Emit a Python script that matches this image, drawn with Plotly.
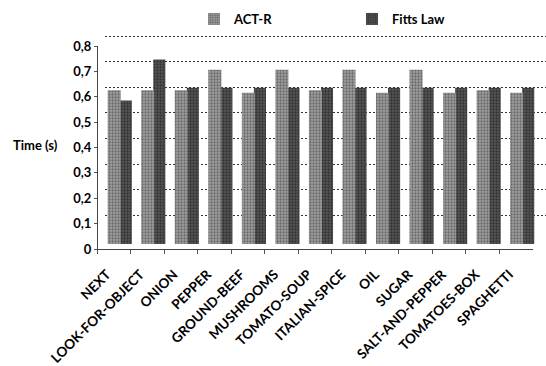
import plotly.graph_objects as go

W, H = 546, 366

categories = ["NEXT", "LOOK-FOR-OBJECT", "ONION", "PEPPER", "GROUND-BEEF", "MUSHROOMS",
              "TOMATO-SOUP", "ITALIAN-SPICE", "OIL", "SUGAR", "SALT-AND-PEPPER",
              "TOMATOES-BOX", "SPAGHETTI"]
act_r = [0.60, 0.60, 0.60, 0.68, 0.59, 0.68, 0.60, 0.68, 0.59, 0.68, 0.59, 0.60, 0.59]
fitts = [0.56, 0.72, 0.61, 0.61, 0.61, 0.61, 0.61, 0.61, 0.61, 0.61, 0.61, 0.61, 0.61]
y_ticks = [0, 0.1, 0.2, 0.3, 0.4, 0.5, 0.6, 0.7, 0.8]
y_tick_labels = ["0", "0,1", "0,2", "0,3", "0,4", "0,5", "0,6", "0,7", "0,8"]

FONT = "Lato"


def px_x(p):
    return p / W


def px_y(p):
    return 1 - p / H


fig = go.Figure()

# invisible traces that keep the label axis, floor edge and back wall populated
for xa, ya in (("x", "y"), ("x4", "y"), ("x2", "y2")):
    fig.add_trace(go.Scatter(x=categories, y=[None] * len(categories), xaxis=xa, yaxis=ya,
                             mode="markers", showlegend=False, hoverinfo="skip"))

# bars stand between the front edge and the back wall (Fitts drawn first, behind)
fig.add_trace(go.Bar(
    name="Fitts Law", x=categories, y=fitts, xaxis="x3", yaxis="y3",
    width=0.36, offset=-0.06, legendrank=2,
    marker=dict(color="#4a4a4a", line=dict(width=0),
                pattern=dict(shape=".", fgcolor="#111111", bgcolor="#555555",
                             size=3, solidity=0.45)),
))
fig.add_trace(go.Bar(
    name="ACT-R", x=categories, y=act_r, xaxis="x3", yaxis="y3",
    width=0.39, offset=-0.42, legendrank=1,
    marker=dict(color="#8c8c8c", line=dict(width=0),
                pattern=dict(shape=".", fgcolor="#333333", bgcolor="#a0a0a0",
                             size=3, solidity=0.45)),
))

hidden = dict(showticklabels=False, showgrid=False, showline=False, zeroline=False,
              ticks="", automargin=False, fixedrange=True)
cat_axis = dict(type="category", categoryorder="array", categoryarray=categories)

fig.update_layout(
    width=W, height=H,
    margin=dict(l=0, r=0, t=0, b=0, autoexpand=False),
    paper_bgcolor="white", plot_bgcolor="rgba(0,0,0,0)",
    barmode="overlay",
    font=dict(family=FONT, color="black", size=12, weight="bold"),
    legend=dict(orientation="h", x=px_x(194), y=px_y(4), xanchor="left", yanchor="top",
                entrywidth=113, entrywidthmode="pixels", itemwidth=30,
                font=dict(family=FONT, size=13, weight="bold"), traceorder="normal"),
    # category labels
    xaxis=dict(domain=[px_x(90), px_x(526)], anchor="y", range=[-0.5, 12.5], **cat_axis,
               showline=False, ticks="", tickangle=-45, ticklabelstandoff=14,
               tickfont=dict(family=FONT, size=13.5, weight="bold"),
               showgrid=False, zeroline=False, automargin=False, fixedrange=True),
    # front floor edge with its tick marks
    xaxis4=dict(domain=[px_x(97), px_x(533)], anchor="y", range=[-0.5, 12.5], **cat_axis,
                showline=True, linecolor="#444444", linewidth=1, showticklabels=False,
                ticks="outside", tickson="boundaries", ticklen=4, tickcolor="#555555",
                showgrid=False, zeroline=False, automargin=False, fixedrange=True),
    # front value axis
    yaxis=dict(domain=[px_y(249), px_y(46)], anchor="free", position=px_x(97),
               range=[0, 0.8], tickmode="array", tickvals=y_ticks, ticktext=y_tick_labels,
               showline=True, linecolor="#444444", linewidth=1,
               ticks="outside", ticklen=3, tickcolor="#555555",
               tickfont=dict(family=FONT, size=13, weight="bold"),
               showgrid=False, zeroline=False, automargin=False, fixedrange=True),
    # back wall: dotted gridlines
    xaxis2=dict(domain=[px_x(105), 1], anchor="y2", range=[-0.5, 12.65], **cat_axis,
                **hidden),
    yaxis2=dict(domain=[px_y(241), px_y(35)], anchor="x2", range=[0, 0.804],
                tickmode="array", tickvals=y_ticks, showticklabels=False,
                showgrid=True, gridcolor="#333333", gridwidth=1, griddash="2px,2px",
                zeroline=False, showline=False, ticks="",
                automargin=False, fixedrange=True),
    # bar plane
    xaxis3=dict(domain=[px_x(105), 1], anchor="y3", range=[-0.5, 12.65], **cat_axis,
                **hidden),
    yaxis3=dict(domain=[px_y(244), px_y(39)], anchor="x3", range=[0, 0.8], **hidden),
    annotations=[dict(text="Time (s)", xref="paper", yref="paper", x=px_x(35), y=px_y(145),
                      showarrow=False, xanchor="center", yanchor="middle",
                      font=dict(family=FONT, size=13, weight="bold"))],
)

fig.write_html("out.html")
